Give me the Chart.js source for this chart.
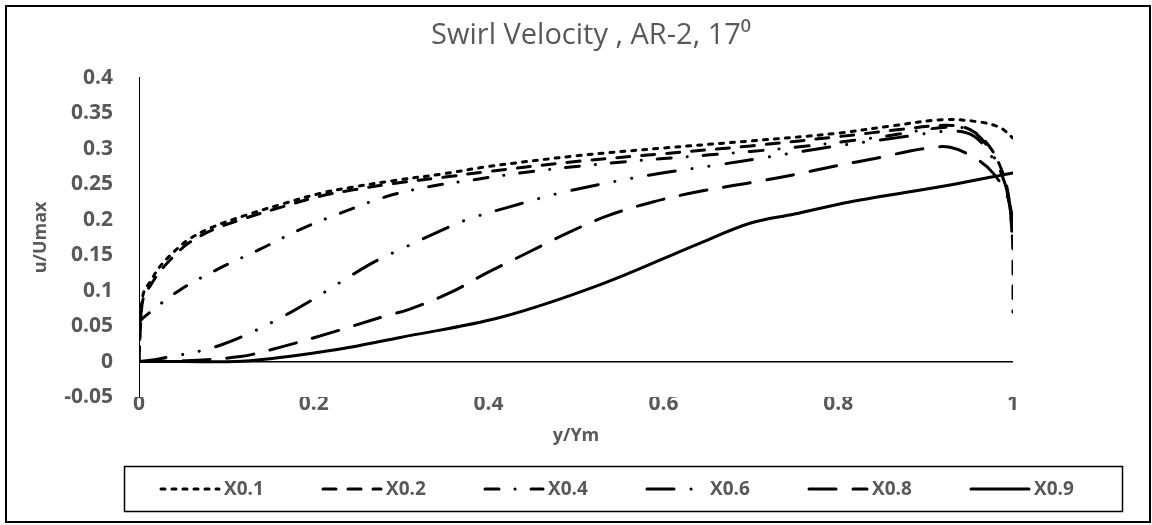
<!DOCTYPE html>
<html>
<head>
<meta charset="utf-8">
<script src="https://cdn.jsdelivr.net/npm/chart.js@4"></script>
<style>
  html, body { margin: 0; padding: 0; background: #fff; }
  #wrap { width: 1152px; height: 525px; }
</style>
</head>
<body>
<div id="wrap"><canvas id="swirlChart" width="1152" height="525"></canvas></div>
<script>
// ======================
// Data
// ======================
const seriesLabels = ["X0.1", "X0.2", "X0.4", "X0.6", "X0.8", "X0.9"];

const x01 = [0, 0.002, 0.005, 0.013, 0.024, 0.041, 0.058, 0.085, 0.124, 0.161, 0.207, 0.245, 0.291, 0.35, 0.4, 0.5, 0.6, 0.7, 0.8, 0.86, 0.92, 0.96, 0.985, 1];
const y01 = [0, 0.06, 0.096, 0.113, 0.134, 0.156, 0.173, 0.19, 0.207, 0.221, 0.237, 0.246, 0.255, 0.265, 0.275, 0.29, 0.301, 0.311, 0.322, 0.332, 0.341, 0.338, 0.33, 0.315];

const x02 = [0, 0.002, 0.005, 0.013, 0.024, 0.041, 0.058, 0.085, 0.124, 0.161, 0.207, 0.245, 0.291, 0.35, 0.4, 0.5, 0.6, 0.7, 0.8, 0.87, 0.92, 0.945, 0.962, 0.976, 0.987, 0.994, 0.998, 1, 1];
const y02 = [0, 0.055, 0.09, 0.107, 0.127, 0.15, 0.168, 0.186, 0.203, 0.217, 0.233, 0.242, 0.251, 0.26, 0.268, 0.282, 0.293, 0.304, 0.317, 0.327, 0.333, 0.33, 0.318, 0.298, 0.27, 0.24, 0.2, 0.15, 0.07];

const x04 = [0, 0.005, 0.047, 0.093, 0.138, 0.184, 0.23, 0.279, 0.325, 0.376, 0.45, 0.55, 0.65, 0.75, 0.85, 0.92, 0.95, 0.97, 0.985, 0.995, 1];
const y04 = [0.055, 0.062, 0.101, 0.132, 0.158, 0.186, 0.209, 0.231, 0.245, 0.255, 0.268, 0.281, 0.291, 0.302, 0.317, 0.33, 0.327, 0.305, 0.27, 0.23, 0.16];

const x06 = [0, 0.024, 0.093, 0.173, 0.264, 0.299, 0.341, 0.375, 0.421, 0.49, 0.585, 0.661, 0.718, 0.794, 0.87, 0.93, 0.955, 0.975, 0.99, 1];
const y06 = [0, 0.004, 0.023, 0.069, 0.137, 0.158, 0.182, 0.2, 0.217, 0.24, 0.263, 0.277, 0.288, 0.303, 0.316, 0.325, 0.318, 0.29, 0.255, 0.19];

const x08 = [0, 0.05, 0.116, 0.161, 0.218, 0.276, 0.31, 0.356, 0.398, 0.444, 0.49, 0.535, 0.588, 0.642, 0.699, 0.748, 0.794, 0.845, 0.897, 0.928, 0.959, 0.977, 0.993, 1];
const y08 = [0, 0.001, 0.007, 0.02, 0.04, 0.062, 0.074, 0.097, 0.125, 0.153, 0.181, 0.205, 0.225, 0.24, 0.252, 0.263, 0.275, 0.287, 0.3, 0.302, 0.285, 0.266, 0.235, 0.2];

const x09 = [0, 0.05, 0.11, 0.15, 0.2, 0.25, 0.299, 0.413, 0.527, 0.642, 0.699, 0.75, 0.813, 0.928, 1];
const y09 = [0, 0, 0, 0.004, 0.012, 0.022, 0.034, 0.062, 0.108, 0.167, 0.195, 0.208, 0.225, 0.249, 0.266];

const xTicks = [0, 0.2, 0.4, 0.6, 0.8, 1];
const yTicks = [-0.05, 0, 0.05, 0.1, 0.15, 0.2, 0.25, 0.3, 0.35, 0.4];

// ======================
// Styles
// ======================
const TEXT = "#595959";
const FONT = "'Open Sans', 'Noto Sans', sans-serif";
const dashes = [[4, 7], [13, 12], [14, 16, 0.1, 16], [27, 17, 0.1, 17, 0.1, 17], [27, 17], []];

function toPoints(xs, ys) {
  return xs.map((x, i) => ({ x: x, y: ys[i] }));
}

const allX = [x01, x02, x04, x06, x08, x09];
const allY = [y01, y02, y04, y06, y08, y09];

const datasets = seriesLabels.map((label, i) => ({
  label: label,
  data: toPoints(allX[i], allY[i]),
  showLine: true,
  borderColor: "#000",
  borderWidth: 3,
  borderDash: dashes[i],
  borderCapStyle: "round",
  pointRadius: 0,
  tension: 0.35,
  fill: false
}));

// ======================
// Legend box + outer frame (Excel style)
// ======================
const excelLegend = {
  id: "excelLegend",
  afterDraw(chart) {
    const ctx = chart.ctx;
    ctx.save();
    // outer frame
    ctx.strokeStyle = "#000";
    ctx.lineWidth = 2;
    ctx.strokeRect(6, 6, 1144, 516);

    // legend box
    ctx.lineWidth = 1.5;
    ctx.strokeRect(124.5, 466.5, 998, 45);

    const cy = 489;
    ctx.font = "bold 19px " + FONT;
    ctx.fillStyle = TEXT;
    ctx.textBaseline = "middle";
    chart.data.datasets.forEach((ds, i) => {
      const x0 = 161 + i * 162;
      ctx.strokeStyle = "#000";
      ctx.lineWidth = ds.borderWidth;
      ctx.lineCap = "round";
      ctx.setLineDash(ds.borderDash);
      ctx.beginPath();
      ctx.moveTo(x0, cy);
      ctx.lineTo(x0 + 58, cy);
      ctx.stroke();
      ctx.setLineDash([]);
      ctx.fillText(ds.label, x0 + 63, cy + 1);
    });
    ctx.restore();
  }
};

// ======================
// Chart
// ======================
const ctx = document.getElementById("swirlChart").getContext("2d");
new Chart(ctx, {
  type: "scatter",
  data: { datasets: datasets },
  plugins: [excelLegend],
  options: {
    responsive: false,
    animation: false,
    layout: { padding: { left: 30, right: 0, top: 0, bottom: 68 } },
    plugins: {
      legend: { display: false },
      tooltip: { enabled: false },
      title: {
        display: true,
        text: "Swirl Velocity , AR-2, 17\u2070",
        color: TEXT,
        font: { family: FONT, size: 29, weight: "normal" },
        padding: { top: 18, bottom: 25 }
      }
    },
    scales: {
      x: {
        type: "linear",
        min: 0,
        max: 1,
        afterBuildTicks: s => { s.ticks = xTicks.map(v => ({ value: v })); },
        afterFit: s => { s.height = 60; },
        grid: { display: false, drawTicks: false },
        border: { display: false },
        ticks: {
          color: TEXT,
          padding: -6,
          font: { family: FONT, size: 21, weight: "bold" },
          callback: v => String(+v.toFixed(2))
        },
        title: {
          display: true,
          text: "y/Ym",
          color: TEXT,
          font: { family: FONT, size: 18, weight: "bold" },
          padding: { top: 0, bottom: 10 }
        }
      },
      y: {
        min: -0.05,
        max: 0.4,
        afterBuildTicks: s => { s.ticks = yTicks.map(v => ({ value: v })); },
        afterFit: s => { s.width = 109; },
        grid: {
          drawTicks: false,
          lineWidth: 1.5,
          color: c => (c.tick && Math.abs(c.tick.value) < 1e-9) ? "#000" : "rgba(0,0,0,0)"
        },
        border: { display: true, color: "#000", width: 1 },
        ticks: {
          color: TEXT,
          padding: 26,
          font: { family: FONT, size: 21, weight: "bold" },
          callback: v => String(+v.toFixed(2))
        },
        title: {
          display: true,
          text: "u/Umax",
          color: TEXT,
          font: { family: FONT, size: 18, weight: "bold" },
          padding: 0
        }
      },
      // empty right-hand axis that only reserves the margin to the right of the plot
      yRight: {
        position: "right",
        afterFit: s => { s.width = 139; },
        grid: { display: false, drawTicks: false },
        border: { display: false },
        ticks: { display: false }
      }
    }
  }
});
</script>
</body>
</html>
